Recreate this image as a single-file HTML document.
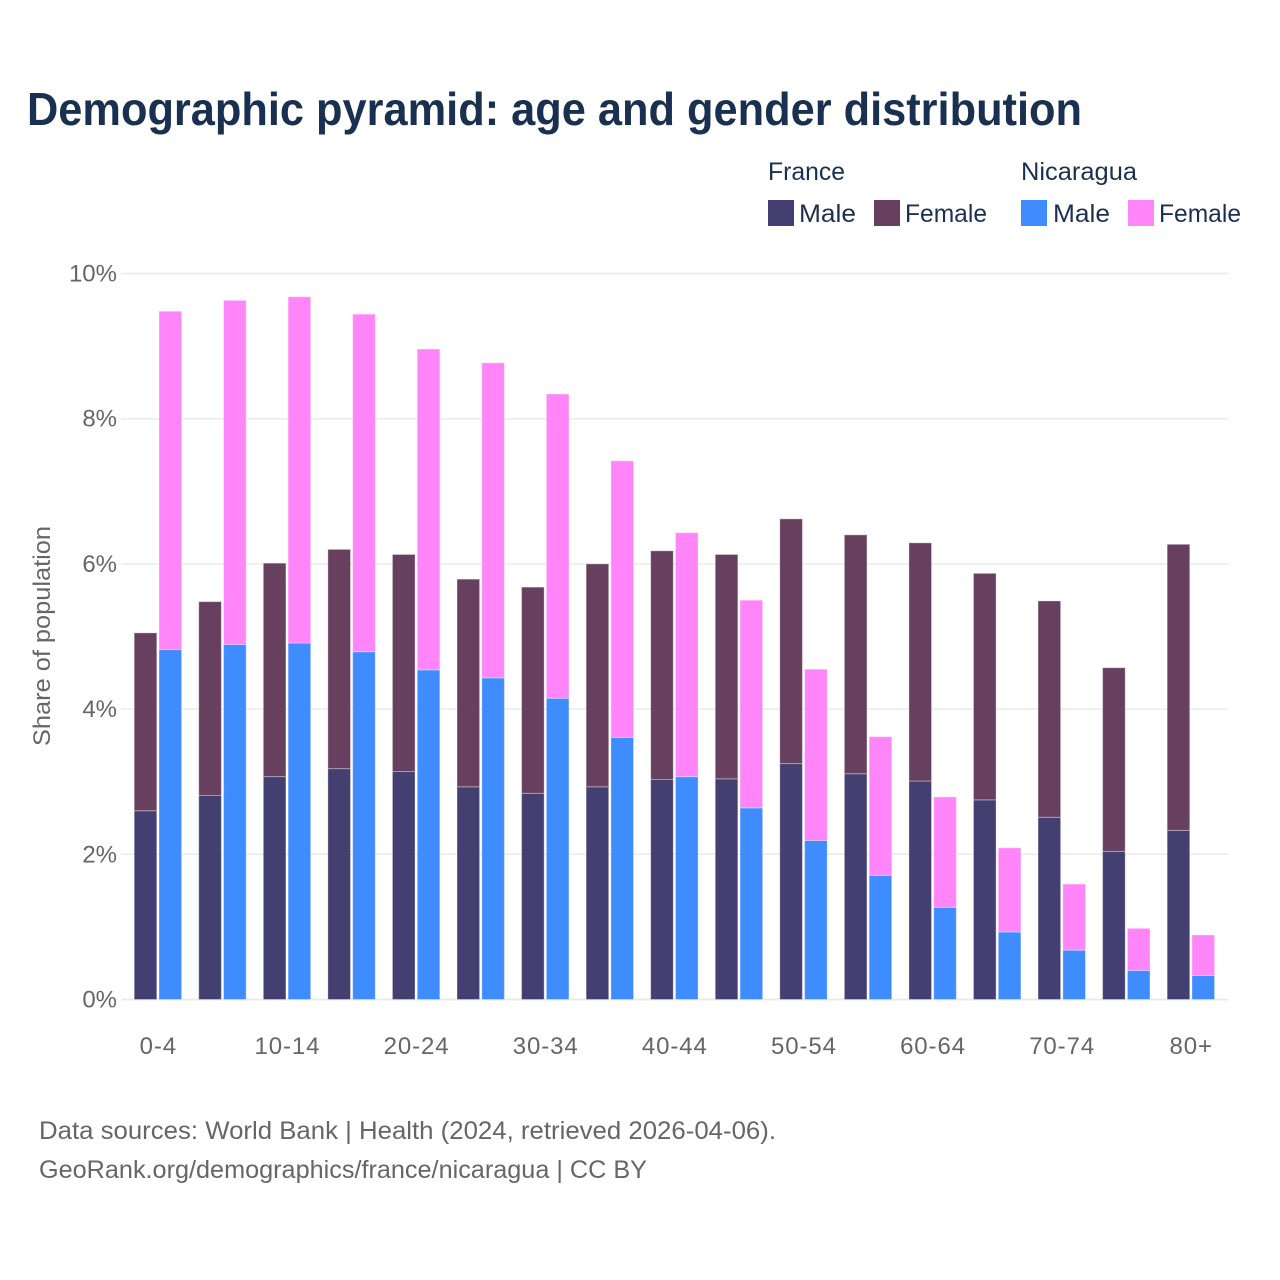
<!DOCTYPE html>
<html lang="en">
<head>
<meta charset="utf-8">
<title>Demographic pyramid: age and gender distribution</title>
<style>
html,body{margin:0;padding:0;background:#fff;}
svg{display:block;font-family:"Liberation Sans",sans-serif;}
</style>
</head>
<body>
<svg id="chart" width="1280" height="1280" viewBox="0 0 1280 1280" xmlns="http://www.w3.org/2000/svg">
  <rect x="0" y="0" width="1280" height="1280" fill="#ffffff"/>
  <text x="27" y="125" font-size="46" font-weight="700" fill="#1a3050" textLength="1055" lengthAdjust="spacingAndGlyphs">Demographic pyramid: age and gender distribution</text>

  <g font-size="25" fill="#1a3050">
    <text x="768" y="180" textLength="77" lengthAdjust="spacingAndGlyphs">France</text>
    <text x="1021" y="180" textLength="116" lengthAdjust="spacingAndGlyphs">Nicaragua</text>
    <rect x="768" y="200" width="26" height="26" fill="#433f70"/>
    <text x="799" y="222" textLength="57" lengthAdjust="spacingAndGlyphs">Male</text>
    <rect x="874" y="200" width="26" height="26" fill="#674060"/>
    <text x="905" y="222" textLength="82" lengthAdjust="spacingAndGlyphs">Female</text>
    <rect x="1021" y="200" width="26" height="26" fill="#3f8cff"/>
    <text x="1053" y="222" textLength="57" lengthAdjust="spacingAndGlyphs">Male</text>
    <rect x="1128" y="200" width="26" height="26" fill="#ff85f8"/>
    <text x="1159" y="222" textLength="82" lengthAdjust="spacingAndGlyphs">Female</text>
  </g>

  <g id="grid"></g>
  <g id="y-labels"></g>
  <g id="bars"></g>
  <g id="x-labels"></g>

  <text transform="translate(50,746) rotate(-90)" x="0" y="0" font-size="24" fill="#666666" textLength="220" lengthAdjust="spacingAndGlyphs">Share of population</text>

  <text x="39" y="1139" font-size="25" fill="#666666" textLength="737" lengthAdjust="spacingAndGlyphs">Data sources: World Bank | Health (2024, retrieved 2026-04-06).</text>
  <text x="39" y="1178" font-size="25" fill="#666666" textLength="608" lengthAdjust="spacingAndGlyphs">GeoRank.org/demographics/france/nicaragua | CC BY</text>
</svg>
<script>
const categories = ["0-4","5-9","10-14","15-19","20-24","25-29","30-34","35-39","40-44","45-49","50-54","55-59","60-64","65-69","70-74","75-79","80+"];
const franceMale = [2.60,2.81,3.07,3.18,3.14,2.93,2.84,2.93,3.03,3.04,3.25,3.11,3.01,2.75,2.51,2.04,2.33];
const franceFemale = [2.45,2.67,2.94,3.02,2.99,2.86,2.84,3.07,3.15,3.09,3.37,3.29,3.28,3.12,2.98,2.53,3.94];
const nicaraguaMale = [4.82,4.89,4.91,4.79,4.54,4.43,4.15,3.61,3.07,2.64,2.19,1.71,1.27,0.93,0.68,0.40,0.33];
const nicaraguaFemale = [4.66,4.74,4.77,4.65,4.42,4.34,4.19,3.81,3.36,2.86,2.36,1.91,1.52,1.16,0.91,0.58,0.56];
const yTicks = [0,2,4,6,8,10];

const NS = "http://www.w3.org/2000/svg";
const plotLeft = 121, plotRight = 1228;
const yZero = 999.5, yPerUnit = 72.6;
const firstCenter = 157.9, step = 64.56;
const barWidth = 22.6, barGap = 1.1;

function yScale(v){ return yZero - v * yPerUnit; }
function xCenter(i){ return firstCenter + i * step; }

const gridGroup = document.getElementById("grid");
const yLabelGroup = document.getElementById("y-labels");
yTicks.forEach(function(t){
  const line = document.createElementNS(NS,"line");
  
  
  line.setAttribute("x1", plotLeft);
  line.setAttribute("x2", plotRight);
  line.setAttribute("y1", yScale(t));
  line.setAttribute("y2", yScale(t));
  line.setAttribute("stroke", "#ebebeb");
  line.setAttribute("stroke-width", t === 0 ? 2 : 1.5);
  gridGroup.appendChild(line);

  const label = document.createElementNS(NS,"text");
  
  
  label.setAttribute("x", 117);
  label.setAttribute("y", yScale(t) + 8);
  label.setAttribute("text-anchor", "end");
  label.setAttribute("font-size", "24");
  label.setAttribute("fill", "#666666");
  label.textContent = t + "%";
  yLabelGroup.appendChild(label);
});

function addBar(parent, x, base, val, fill, name){
  const r = document.createElementNS(NS,"rect");
  
  
  r.setAttribute("x", x);
  r.setAttribute("y", yScale(base + val));
  r.setAttribute("width", barWidth);
  r.setAttribute("height", val * yPerUnit);
  r.setAttribute("fill", fill);
  r.setAttribute("stroke", "#ffffff");
  r.setAttribute("stroke-opacity", "0.35");
  r.setAttribute("stroke-width", "1");
  parent.appendChild(r);
}

const barsGroup = document.getElementById("bars");
const xLabelGroup = document.getElementById("x-labels");
categories.forEach(function(cat, i){
  const cx = xCenter(i);
  const leftX = cx - barGap - barWidth;
  const rightX = cx + barGap;
  addBar(barsGroup, leftX, 0, franceMale[i], "#433f70", "bar-france-male");
  addBar(barsGroup, leftX, franceMale[i], franceFemale[i], "#674060", "bar-france-female");
  addBar(barsGroup, rightX, 0, nicaraguaMale[i], "#3f8cff", "bar-nicaragua-male");
  addBar(barsGroup, rightX, nicaraguaMale[i], nicaraguaFemale[i], "#ff85f8", "bar-nicaragua-female");

  if (i % 2 === 0) {
    const label = document.createElementNS(NS,"text");
    
    
    label.setAttribute("x", cx + 0.4);
    label.setAttribute("y", 1054);
    label.setAttribute("text-anchor", "middle");
    label.setAttribute("font-size", "24");
    label.setAttribute("letter-spacing", "0.9");
    label.setAttribute("fill", "#666666");
    label.textContent = cat;
    xLabelGroup.appendChild(label);
  }
});
</script>
</body>
</html>
